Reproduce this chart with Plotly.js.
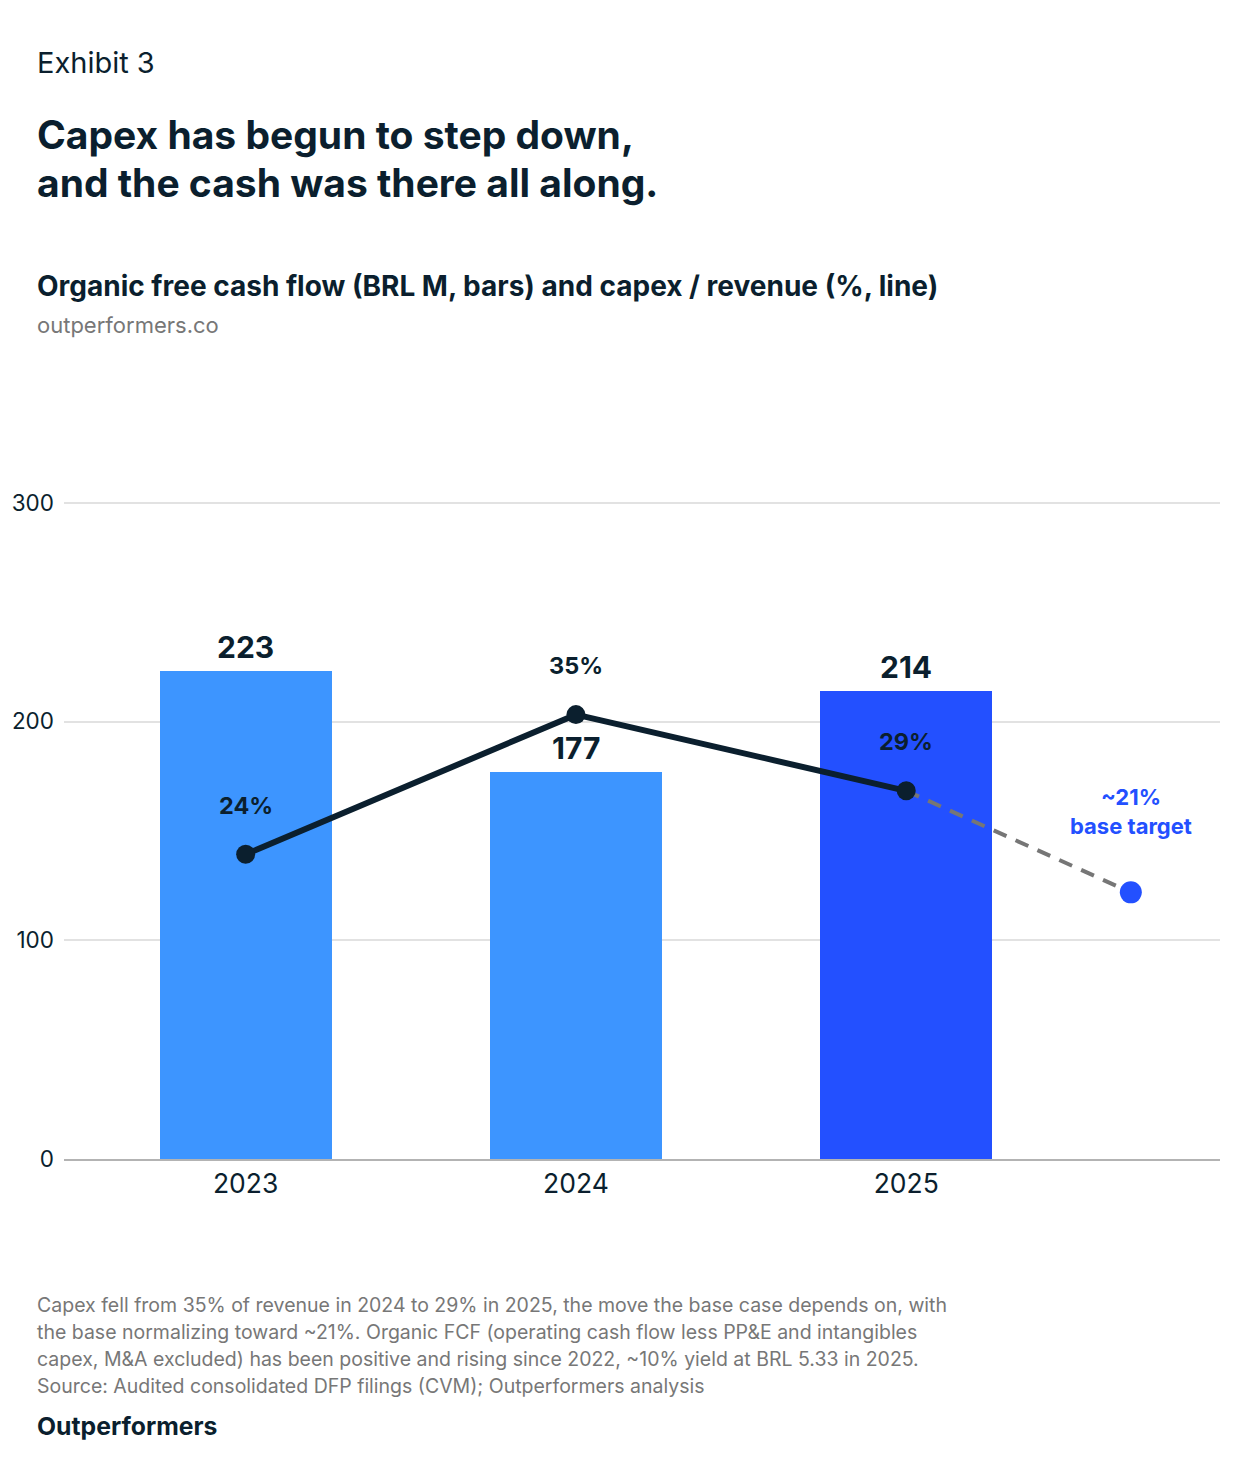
<!DOCTYPE html>
<html>
<head>
<meta charset="utf-8">
<script src="https://cdn.plot.ly/plotly-3.0.1.min.js"></script>
<style>
    body { margin: 0; background: #fff; font-family: Inter, 'Noto Sans', sans-serif; color: #0b1f2e; }
    #page { position: relative; width: 1240px; height: 1480px; overflow: hidden; }
    #chart { position: absolute; left: 0; top: 0; width: 1240px; height: 1480px; }
    .txt { position: absolute; left: 37px; white-space: nowrap; }
    #kicker { top: 46px; font-size: 29px; line-height: 34px; font-weight: 400; }
    #headline { top: 111px; font-size: 39px; font-weight: 700; line-height: 48px; }
    #subtitle { top: 269px; font-size: 28px; line-height: 34px; font-weight: 700; }
    #site { top: 312px; font-size: 22px; line-height: 26px; color: #777; }
    #notes { top: 1292px; font-size: 19.5px; line-height: 27px; color: #777; }
    #brand { top: 1411px; font-size: 24.75px; line-height: 30px; font-weight: 700; }
</style>
</head>
<body>
<div id="page">
    <div id="chart"></div>
    <div class="txt" id="kicker">Exhibit 3</div>
    <div class="txt" id="headline">Capex has begun to step down,<br>and the cash was there all along.</div>
    <div class="txt" id="subtitle">Organic free cash flow (BRL M, bars) and capex / revenue (%, line)</div>
    <div class="txt" id="site">outperformers.co</div>
    <div class="txt" id="notes">Capex fell from 35% of revenue in 2024 to 29% in 2025, the move the base case depends on, with<br>the base normalizing toward ~21%. Organic FCF (operating cash flow less PP&amp;E and intangibles<br>capex, M&amp;A excluded) has been positive and rising since 2022, ~10% yield at BRL 5.33 in 2025.<br>Source: Audited consolidated DFP filings (CVM); Outperformers analysis</div>
    <div class="txt" id="brand">Outperformers</div>
</div>
<script>
// Chart data
const years = [2023, 2024, 2025];
const fcf = [223, 177, 214];            // organic FCF, BRL M
const capexPct = [24, 35, 29];          // capex / revenue, %
const targetX = 2025.68;                // position of the base-target marker
const targetPct = 21;
const targetLabel = '~21%<br>base target';

const NAVY = '#0b1f2e';
const LIGHT = '#3d95ff';
const BLUE = '#2350ff';

const barColors = years.map(function(y, i) { return i === years.length - 1 ? BLUE : LIGHT; });

const data = [
    {
        type: 'bar',
        x: years,
        y: fcf,
        width: 0.52,
        marker: { color: barColors },
        hoverinfo: 'skip'
    },
    {
        type: 'scatter',
        mode: 'lines',
        x: [years[years.length - 1], targetX],
        y: [capexPct[capexPct.length - 1], targetPct],
        yaxis: 'y2',
        line: { color: '#767676', width: 4, dash: '14px,10px' },
        hoverinfo: 'skip'
    },
    {
        type: 'scatter',
        mode: 'lines+markers',
        x: years,
        y: capexPct,
        yaxis: 'y2',
        line: { color: NAVY, width: 6 },
        marker: { color: NAVY, size: 19 },
        hoverinfo: 'skip'
    },
    {
        type: 'scatter',
        mode: 'markers',
        x: [targetX],
        y: [targetPct],
        yaxis: 'y2',
        marker: { color: BLUE, size: 22 },
        hoverinfo: 'skip'
    }
];

// Value labels
const annotations = [];
years.forEach(function(yr, i) {
    annotations.push({
        x: yr, y: fcf[i], xref: 'x', yref: 'y',
        text: String(fcf[i]), showarrow: false,
        yanchor: 'bottom', yshift: 4,
        font: { family: 'Inter', size: 30, color: NAVY, weight: 700 }
    });
    annotations.push({
        x: yr, y: capexPct[i], xref: 'x', yref: 'y2',
        text: capexPct[i] + '%', showarrow: false,
        yanchor: 'middle', yshift: 49,
        font: { family: 'Inter', size: 23.5, color: NAVY, weight: 700 }
    });
});
annotations.push({
    x: targetX, y: targetPct, xref: 'x', yref: 'y2',
    text: targetLabel, showarrow: false,
    yanchor: 'middle', yshift: 81,
    font: { family: 'Inter', size: 22, color: BLUE, weight: 700 }
});

const layout = {
    width: 1240,
    height: 1480,
    margin: { t: 481, b: 321, l: 64, r: 20 },
    paper_bgcolor: '#fff',
    plot_bgcolor: '#fff',
    showlegend: false,
    font: { family: 'Inter, sans-serif', color: NAVY },
    bargap: 0,
    xaxis: {
        range: [2022.45, 2025.95],
        tickvals: years,
        ticktext: years.map(String),
        showgrid: false,
        zeroline: false,
        showline: true,
        linecolor: '#b3b3b3',
        linewidth: 2,
        ticks: '',
        ticklabelstandoff: 0,
        tickfont: { size: 26.5, color: NAVY }
    },
    yaxis: {
        range: [0, 310],
        tickvals: [0, 100, 200, 300],
        showgrid: true,
        gridcolor: '#e2e2e2',
        gridwidth: 2,
        zeroline: false,
        ticks: '',
        ticklabelstandoff: 9,
        tickfont: { size: 22.5, color: NAVY }
    },
    yaxis2: {
        overlaying: 'y',
        range: [0, 53.4],
        visible: false
    },
    annotations: annotations
};

Plotly.newPlot('chart', data, layout, { displayModeBar: false, staticPlot: true });
</script>
</body>
</html>
